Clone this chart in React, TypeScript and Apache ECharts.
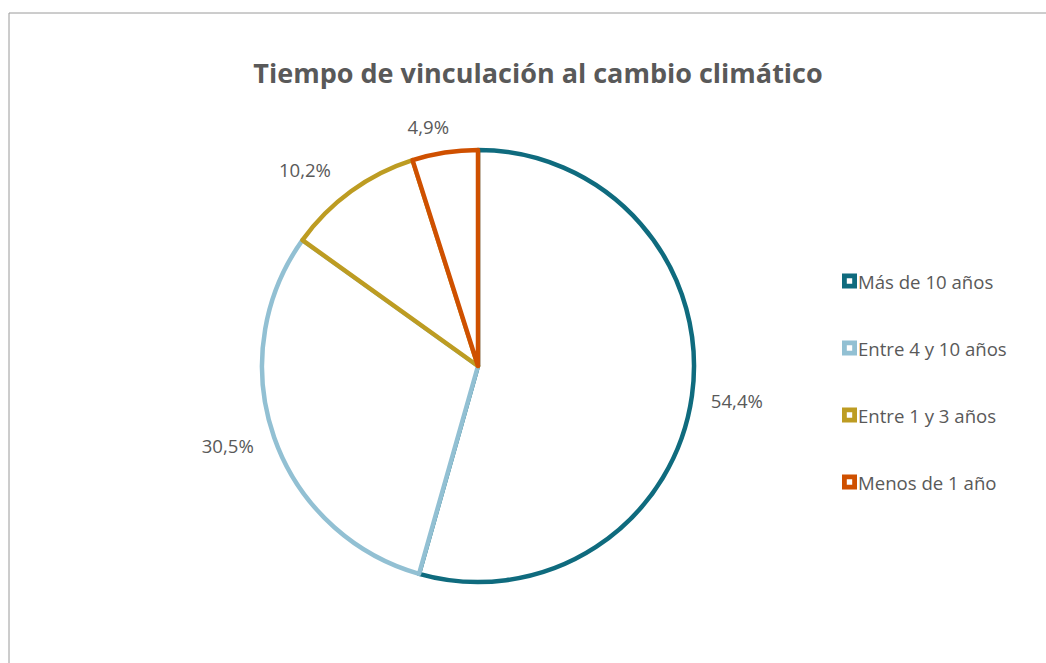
import React, { useEffect, useRef } from "react";
import * as echarts from "echarts";

const titleText = "Tiempo de vinculación al cambio climático";
const categories = ["Más de 10 años", "Entre 4 y 10 años", "Entre 1 y 3 años", "Menos de 1 año"];
const values = [54.4, 30.5, 10.2, 4.9];
const colors = ["#0f6b7e", "#92c0d3", "#bd9c22", "#cf5000"];
const labelNudges = [
  [2, 3],
  [-4, 4],
  [-8, -12],
  [11, -14],
];

const fmt = (v: number) => v.toFixed(1).replace(".", ",") + "%";

export default function App() {
  const ref = useRef<HTMLDivElement>(null);
  useEffect(() => {
    document.body.style.margin = "0";
    const chart = echarts.init(ref.current!, null, { renderer: "svg" });
    const font = "'Open Sans', sans-serif";
    chart.setOption({
      animation: false,
      backgroundColor: "#ffffff",
      title: {
        text: titleText,
        left: 533,
        textAlign: "center",
        top: 54,
        textStyle: { fontFamily: font, fontSize: 27, fontWeight: "bold", color: "#595959" },
      },
      graphic: [
        {
          type: "rect",
          shape: { x: 9, y: 13, width: 1100, height: 700 },
          style: { fill: "none", stroke: "#9a9a9a", lineWidth: 1 },
          silent: true,
        },
      ],
      legend: {
        orient: "vertical",
        left: 837,
        top: 265,
        itemWidth: 15,
        itemHeight: 15,
        itemGap: 45,
        icon: "path://M0,0H10V10H0Z M3.2,3.2V6.8H6.8V3.2Z",
        textStyle: { fontFamily: font, fontSize: 18.6, color: "#595959", lineHeight: 22, padding: [0, 0, 0, -4] },
        data: categories.map((c, i) => ({ name: c, itemStyle: { color: colors[i], borderWidth: 0 } })),
      },
      series: [
        {
          type: "pie",
          center: [478, 366],
          radius: 216,
          startAngle: 90,
          clockwise: true,
          avoidLabelOverlap: false,
          itemStyle: { color: "#ffffff", borderWidth: 4.5 },
          label: {
            show: true,
            position: "outside",
            formatter: (p: any) => fmt(p.value),
            fontFamily: font,
            fontSize: 18.6,
            color: "#595959",
          },
          labelLine: { show: false, length: 12, length2: 0 },
          labelLayout: (p: any) => ({ dx: labelNudges[p.dataIndex][0], dy: labelNudges[p.dataIndex][1] }),
          data: categories.map((c, i) => ({
            name: c,
            value: values[i],
            itemStyle: { color: "#ffffff", borderColor: colors[i] },
          })),
        },
      ],
    });
    return () => chart.dispose();
  }, []);
  return <div ref={ref} style={{ width: 1046, height: 663 }} />;
}
